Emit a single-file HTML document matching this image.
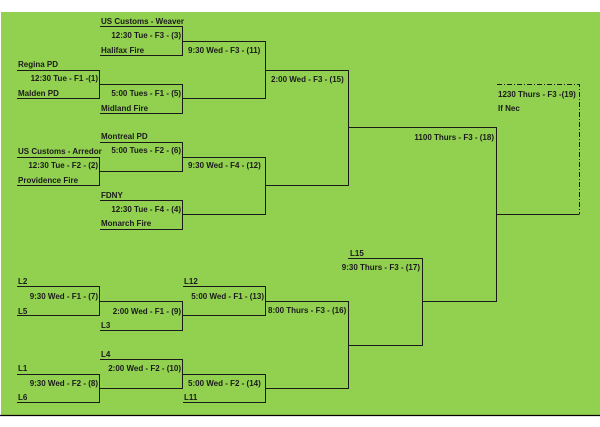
<!DOCTYPE html>
<html><head><meta charset="utf-8"><style>
html,body{margin:0;padding:0;background:#fff;}
svg{display:block;}
text{font-family:"Liberation Sans",sans-serif;font-size:8px;font-weight:bold;fill:#1a1a1a;}
</style></head><body>
<svg width="600" height="427" viewBox="0 0 600 427" xmlns="http://www.w3.org/2000/svg">
<rect x="0" y="0" width="600" height="427" fill="#fff"/>
<rect x="1" y="12" width="599" height="403" fill="#92d050"/>
<line x1="0" y1="415.5" x2="600" y2="415.5" stroke="#000" stroke-width="1.2"/>
<g stroke="#1a1a1a" stroke-width="1" fill="none">
<path d="M100 26.5H182.5V55.5H100"/>
<path d="M17 70.5H99.5V98.5H17"/>
<path d="M99.5 84.5H182.5V113.5H100"/>
<path d="M182.5 41.5H265.5V98.5H182.5"/>
<path d="M265.5 70.5H348.5V185.5H265.5"/>
<path d="M100 142.5H182.5V171.5H99.5"/>
<path d="M17 157.5H99.5V185.5H17"/>
<path d="M100 200.5H182.5V229.5H100"/>
<path d="M182.5 157.5H265.5V214.5H182.5"/>
<path d="M348.5 127.5H496.5V301.5H422.5"/>
<path d="M496.5 214.5H579.5"/>
<path d="M348 258.5H422.5V345.5H348.5"/>
<path d="M17 286.5H99.5V315.5H17"/>
<path d="M99.5 301.5H182.5V330.5H100"/>
<path d="M183 286.5H265.5V315.5H182.5"/>
<path d="M265.5 301.5H348.5V388.5H265.5"/>
<path d="M100 359.5H182.5V388.5H99.5"/>
<path d="M17 374.5H99.5V402.5H17"/>
<path d="M182.5 374.5H265.5V402.5H183"/>
</g>
<path d="M497 84.5H579.5V214" stroke="#1a1a1a" stroke-width="1" fill="none" stroke-dasharray="5,2,1,2"/>
<text x="101" y="24">US Customs - Weaver</text>
<text x="181" y="38" text-anchor="end">12:30 Tue - F3 - (3)</text>
<text x="101" y="53">Halifax Fire</text>
<text x="188" y="53">9:30 Wed - F3 - (11)</text>
<text x="18" y="67">Regina PD</text>
<text x="98" y="81" text-anchor="end">12:30 Tue - F1 -(1)</text>
<text x="18" y="96">Malden PD</text>
<text x="181" y="96" text-anchor="end">5:00 Tues - F1 - (5)</text>
<text x="101" y="111">Midland Fire</text>
<text x="271" y="82">2:00 Wed - F3 - (15)</text>
<text x="101" y="139">Montreal PD</text>
<text x="18" y="154">US Customs - Arredor</text>
<text x="181" y="153" text-anchor="end">5:00 Tues - F2 - (6)</text>
<text x="98" y="168" text-anchor="end">12:30 Tue - F2 - (2)</text>
<text x="188" y="168">9:30 Wed - F4 - (12)</text>
<text x="18" y="183">Providence Fire</text>
<text x="101" y="198">FDNY</text>
<text x="181" y="212" text-anchor="end">12:30 Tue - F4 - (4)</text>
<text x="101" y="226">Monarch Fire</text>
<text x="494" y="140" text-anchor="end">1100 Thurs - F3 - (18)</text>
<text x="498" y="97">1230 Thurs - F3 -(19)</text>
<text x="498" y="111">If Nec</text>
<text x="350" y="256">L15</text>
<text x="420" y="270" text-anchor="end">9:30 Thurs - F3 - (17)</text>
<text x="18" y="284">L2</text>
<text x="98" y="299" text-anchor="end">9:30 Wed - F1 - (7)</text>
<text x="18" y="314">L5</text>
<text x="181" y="314" text-anchor="end">2:00 Wed - F1 - (9)</text>
<text x="101" y="328">L3</text>
<text x="184" y="284">L12</text>
<text x="264" y="299" text-anchor="end">5:00 Wed - F1 - (13)</text>
<text x="268" y="313">8:00 Thurs - F3 - (16)</text>
<text x="101" y="357">L4</text>
<text x="181" y="371" text-anchor="end">2:00 Wed - F2 - (10)</text>
<text x="18" y="371">L1</text>
<text x="98" y="386" text-anchor="end">9:30 Wed - F2 - (8)</text>
<text x="18" y="400">L6</text>
<text x="188" y="386">5:00 Wed - F2 - (14)</text>
<text x="184" y="400">L11</text>
</svg>
</body></html>
